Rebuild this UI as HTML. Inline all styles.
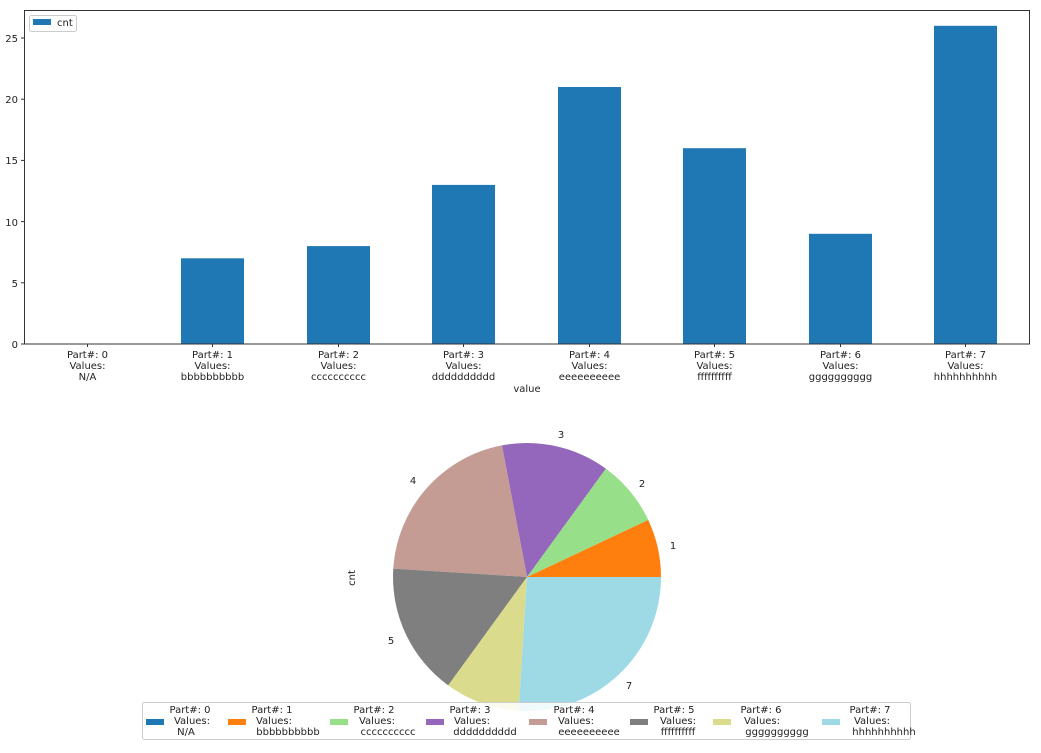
<!DOCTYPE html>
<html><head><meta charset="utf-8"><style>
body{margin:0;background:#fff}
svg text{font-family:"DejaVu Sans","Liberation Sans",sans-serif;fill:#222}
</style></head><body>
<svg width="1041" height="748" viewBox="0 0 1041 748" xmlns="http://www.w3.org/2000/svg">
<g fill="#1f77b4">
<rect x="181" y="258.3" width="63" height="85.7"/>
<rect x="307" y="246.1" width="63" height="97.9"/>
<rect x="432" y="184.9" width="63" height="159.1"/>
<rect x="558" y="87" width="63" height="257"/>
<rect x="683" y="148.2" width="63" height="195.8"/>
<rect x="809" y="233.8" width="63" height="110.2"/>
<rect x="934" y="25.8" width="63" height="318.2"/>
</g>
<rect x="24.5" y="10.5" width="1005" height="333.5" fill="none" stroke="#333" stroke-width="1"/>
<g stroke="#333">
<line x1="21" y1="344" x2="24" y2="344"/><line x1="21" y1="282.8" x2="24" y2="282.8"/>
<line x1="21" y1="221.6" x2="24" y2="221.6"/><line x1="21" y1="160.4" x2="24" y2="160.4"/>
<line x1="21" y1="99.2" x2="24" y2="99.2"/><line x1="21" y1="38" x2="24" y2="38"/>
<line x1="87.5" y1="344" x2="87.5" y2="347"/><line x1="212.5" y1="344" x2="212.5" y2="347"/>
<line x1="338.5" y1="344" x2="338.5" y2="347"/><line x1="463.5" y1="344" x2="463.5" y2="347"/>
<line x1="589.5" y1="344" x2="589.5" y2="347"/><line x1="714.5" y1="344" x2="714.5" y2="347"/>
<line x1="840.5" y1="344" x2="840.5" y2="347"/><line x1="965.5" y1="344" x2="965.5" y2="347"/>
</g>
<g font-size="10" text-anchor="end">
<text x="18" y="348">0</text><text x="18" y="287">5</text><text x="18" y="226">10</text>
<text x="18" y="164">15</text><text x="18" y="103">20</text><text x="18" y="42">25</text>
</g>
<g font-size="10" text-anchor="middle">
<text x="87.5" y="358">Part#: 0</text><text x="87.5" y="369">Values:</text><text x="87.5" y="380">N/A</text>
<text x="212.5" y="358">Part#: 1</text><text x="212.5" y="369">Values:</text><text x="212.5" y="380">bbbbbbbbbb</text>
<text x="338.5" y="358">Part#: 2</text><text x="338.5" y="369">Values:</text><text x="338.5" y="380">cccccccccc</text>
<text x="463.5" y="358">Part#: 3</text><text x="463.5" y="369">Values:</text><text x="463.5" y="380">dddddddddd</text>
<text x="589.5" y="358">Part#: 4</text><text x="589.5" y="369">Values:</text><text x="589.5" y="380">eeeeeeeeee</text>
<text x="714.5" y="358">Part#: 5</text><text x="714.5" y="369">Values:</text><text x="714.5" y="380">ffffffffff</text>
<text x="840.5" y="358">Part#: 6</text><text x="840.5" y="369">Values:</text><text x="840.5" y="380">gggggggggg</text>
<text x="965.5" y="358">Part#: 7</text><text x="965.5" y="369">Values:</text><text x="965.5" y="380">hhhhhhhhhh</text>
<text x="527" y="392">value</text>
</g>
<rect x="29.5" y="15.5" width="47" height="16" fill="#fff" stroke="#ccc" rx="2"/>
<rect x="33" y="19" width="18" height="6" fill="#1f77b4"/>
<text x="57" y="26" font-size="10">cnt</text>
<g stroke="none">
<path d="M527,577 L661,577 A134,134 0 0 0 648.2,519.9 Z" fill="#ff7f0e"/>
<path d="M527,577 L648.2,519.9 A134,134 0 0 0 605.8,468.6 Z" fill="#98df8a"/>
<path d="M527,577 L605.8,468.6 A134,134 0 0 0 501.9,445.4 Z" fill="#9467bd"/>
<path d="M527,577 L501.9,445.4 A134,134 0 0 0 393.3,568.6 Z" fill="#c49c94"/>
<path d="M527,577 L393.3,568.6 A134,134 0 0 0 448.2,685.4 Z" fill="#7f7f7f"/>
<path d="M527,577 L448.2,685.4 A134,134 0 0 0 518.6,710.7 Z" fill="#dbdb8d"/>
<path d="M527,577 L518.6,710.7 A134,134 0 0 0 661,577 Z" fill="#9edae5"/>
</g>
<g font-size="10" text-anchor="middle">
<text x="673" y="549">1</text><text x="642" y="487">2</text><text x="561" y="438">3</text>
<text x="413" y="484">4</text><text x="391" y="644">5</text><text x="629" y="689">7</text>
</g>
<text x="355" y="578" font-size="10" text-anchor="middle" transform="rotate(-90 355 578)">cnt</text>
<rect x="142.5" y="702.5" width="768" height="37" fill="#fff" fill-opacity="0.85" stroke="#ccc" rx="2"/>
<g>
<rect x="146" y="719" width="18" height="6" fill="#1f77b4"/>
<rect x="228" y="719" width="18" height="6" fill="#ff7f0e"/>
<rect x="330" y="719" width="18" height="6" fill="#98df8a"/>
<rect x="426" y="719" width="18" height="6" fill="#9467bd"/>
<rect x="529" y="719" width="18" height="6" fill="#c49c94"/>
<rect x="630" y="719" width="18" height="6" fill="#7f7f7f"/>
<rect x="713" y="719" width="18" height="6" fill="#dbdb8d"/>
<rect x="822" y="719" width="18" height="6" fill="#9edae5"/>
</g>
<g font-size="10" text-anchor="middle">
<text x="190" y="713">Part#: 0</text><text x="192" y="724">Values:</text><text x="186" y="735">N/A</text>
<text x="272" y="713">Part#: 1</text><text x="274" y="724">Values:</text><text x="288" y="735">bbbbbbbbbb</text>
<text x="374" y="713">Part#: 2</text><text x="377" y="724">Values:</text><text x="388" y="735">cccccccccc</text>
<text x="470" y="713">Part#: 3</text><text x="472" y="724">Values:</text><text x="485" y="735">dddddddddd</text>
<text x="574" y="713">Part#: 4</text><text x="576" y="724">Values:</text><text x="589" y="735">eeeeeeeeee</text>
<text x="674" y="713">Part#: 5</text><text x="678" y="724">Values:</text><text x="678" y="735">ffffffffff</text>
<text x="761" y="713">Part#: 6</text><text x="762" y="724">Values:</text><text x="777" y="735">gggggggggg</text>
<text x="870" y="713">Part#: 7</text><text x="872" y="724">Values:</text><text x="884" y="735">hhhhhhhhhh</text>
</g>
</svg>
</body></html>
